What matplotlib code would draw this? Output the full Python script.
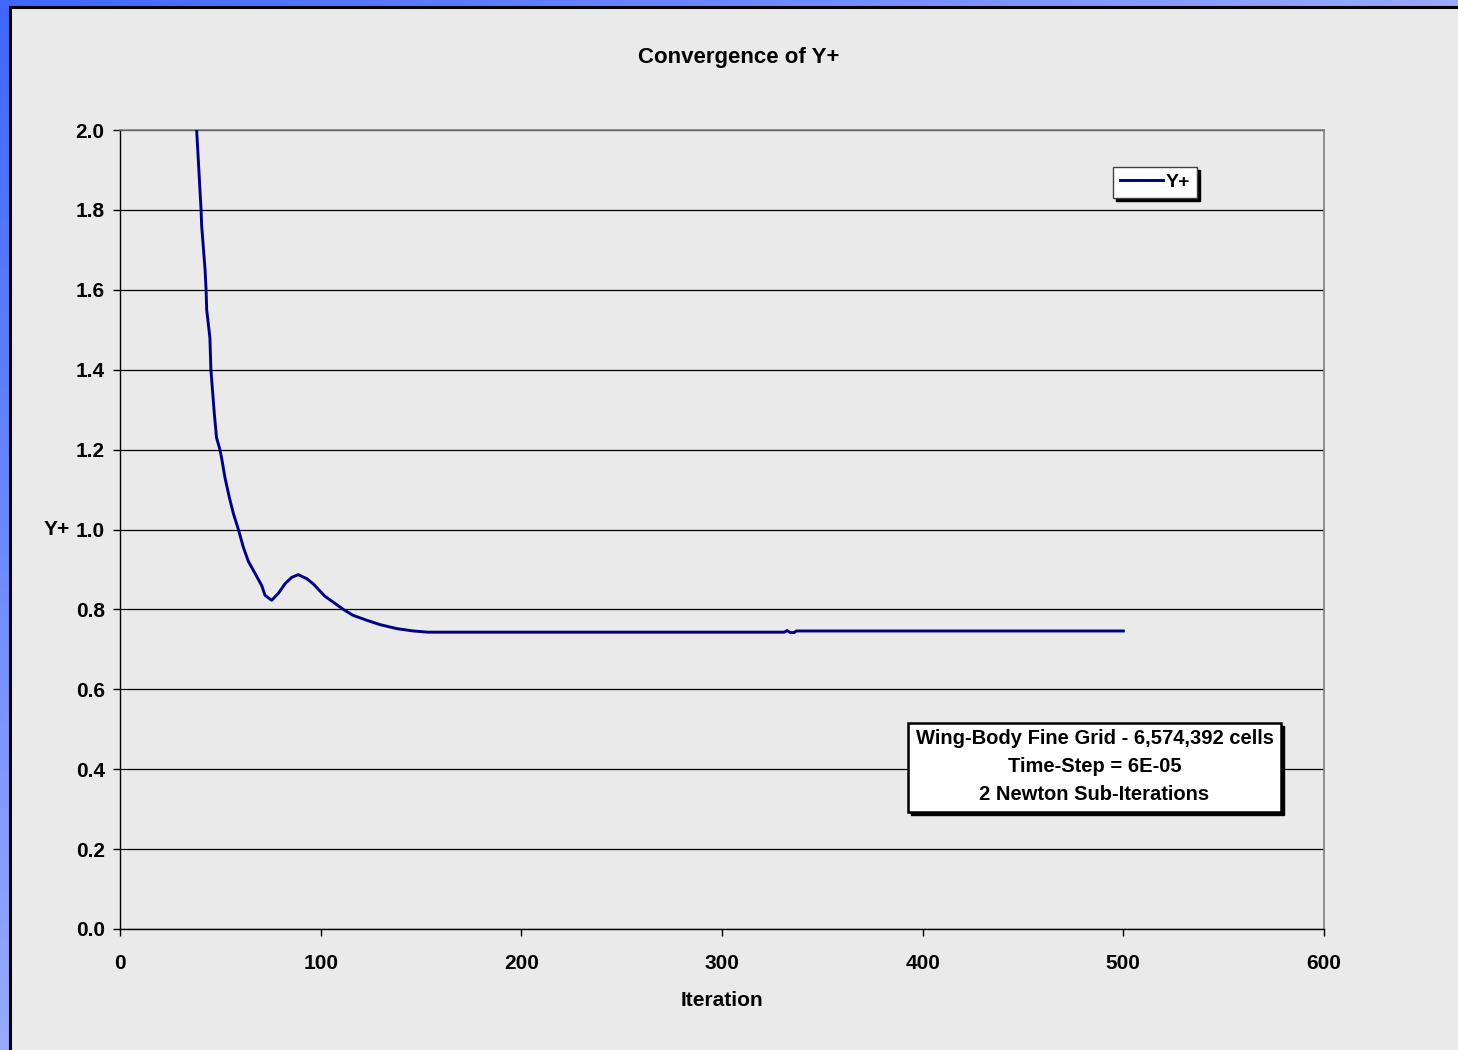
import numpy as np
import matplotlib.pyplot as plt
from matplotlib.patches import Rectangle

# =========================
# DATA
# =========================
iteration = [38.2, 40.4, 40.7, 42.4, 42.9, 43.2, 44.8, 45.3, 47.0, 48.1, 49.8,
             50.6, 52.3, 54.5, 56.5, 59.0, 61.5, 64.0, 67.3, 70.6, 72.3, 75.6,
             78.9, 82.2, 85.5, 88.8, 93.0, 96.3, 102.1, 106.3, 111.3, 116.2,
             122.9, 129.5, 137.8, 146.1, 153.6, 200, 250, 300, 331.0, 332.5,
             334.0, 336.0, 337.0, 400, 450, 500]
yplus = [2.00, 1.80, 1.76, 1.65, 1.60, 1.55, 1.48, 1.40, 1.29, 1.23, 1.20,
         1.18, 1.13, 1.08, 1.04, 1.00, 0.955, 0.92, 0.89, 0.86, 0.835, 0.823,
         0.84, 0.864, 0.88, 0.887, 0.877, 0.864, 0.833, 0.818, 0.80, 0.785,
         0.773, 0.762, 0.752, 0.746, 0.743, 0.743, 0.743, 0.743, 0.743, 0.747,
         0.742, 0.742, 0.746, 0.746, 0.746, 0.746]

series_label = "Y+"
title = "Convergence of Y+"
x_label = "Iteration"
y_label = "Y+"
note_lines = ["Wing-Body Fine Grid - 6,574,392 cells",
              "Time-Step = 6E-05",
              "2 Newton Sub-Iterations"]

# =========================
# FIGURE / BACKGROUND
# =========================
plt.rcParams["font.family"] = ["Liberation Sans", "DejaVu Sans"]
plt.rcParams["font.weight"] = "bold"

W, H = 1458, 1050
fig = plt.figure(figsize=(W / 100, H / 100), dpi=100)

# blue slide gradient behind the chart panel
bg = fig.add_axes([0, 0, 1, 1])
gx, gy = np.meshgrid(np.linspace(0, 1, 200), np.linspace(0, 1, 200))
t = np.clip((gx + gy) / 1.2, 0, 1)
c0 = np.array([0.25, 0.40, 1.0])
c1 = np.array([0.66, 0.72, 1.0])
grad = c0[None, None, :] * (1 - t[..., None]) + c1[None, None, :] * t[..., None]
bg.imshow(grad, extent=[0, 1, 0, 1], aspect="auto", origin="upper")
bg.set_axis_off()

panel = Rectangle((9.5 / W, -0.01), 1.0, 1 - 6.5 / H + 0.01,
                  transform=fig.transFigure, facecolor="#EAEAEA",
                  edgecolor="black", linewidth=2.2, zorder=1)
bg.add_patch(panel)

# =========================
# PLOT
# =========================
ax = fig.add_axes([120 / W, 1 - 929 / H, 1204 / W, 799 / H])
ax.set_facecolor("#EAEAEA")

ax.plot(iteration, yplus, color="#000080", linewidth=2.1, label=series_label,
        zorder=3)

ax.set_xlim(0, 600)
ax.set_ylim(0, 2.0)
ax.set_xticks(np.arange(0, 601, 100))
ax.set_yticks(np.arange(0, 2.01, 0.2))
ax.set_yticklabels([f"{v:.1f}" for v in np.arange(0, 2.01, 0.2)])
ax.tick_params(axis="both", direction="out", length=5, width=1, color="black",
               labelsize=15)
ax.tick_params(axis="y", pad=6)
ax.tick_params(axis="x", pad=13)
for lab in ax.get_xticklabels() + ax.get_yticklabels():
    lab.set_fontweight("bold")

ax.yaxis.grid(True, color="black", linewidth=0.9)
ax.set_axisbelow(True)
for side in ["left", "bottom"]:
    ax.spines[side].set_color("black")
    ax.spines[side].set_linewidth(1.0)
for side in ["top", "right"]:
    ax.spines[side].set_color("#808080")
    ax.spines[side].set_linewidth(1.2)

ax.set_xlabel(x_label, fontsize=15, fontweight="bold")
ax.xaxis.set_label_coords(0.5, -0.077)
ax.xaxis.label.set_va("top")
ax.set_ylabel(y_label, fontsize=15, fontweight="bold", rotation=0,
              ha="right", va="center")
ax.yaxis.set_label_coords(-0.0415, 0.5)

fig.text(739 / W, 1 - 57 / H, title, fontsize=16, fontweight="bold",
         ha="center", va="center")

# legend with hard black shadow
leg = ax.legend(loc="upper left", bbox_to_anchor=(0.825, 0.954),
                borderaxespad=0, fancybox=False, frameon=True,
                edgecolor="#404040", facecolor="white", framealpha=1,
                fontsize=14, handlelength=2.2, handletextpad=0.15,
                borderpad=0.35,
                shadow={"color": "black", "alpha": 1})
leg.get_frame().set_linewidth(1.0)
for txt in leg.get_texts():
    txt.set_fontweight("bold")

# annotation box with shadow
bx0, bx1 = (908 - 120) / 1204, (1281 - 120) / 1204
by0, by1 = (929 - 812) / 799, (929 - 723) / 799
sx, sy = 3 / 1204, 3 / 799
ax.add_patch(Rectangle((bx0 + sx, by0 - sy), bx1 - bx0, by1 - by0,
                       transform=ax.transAxes, facecolor="black",
                       edgecolor="black", zorder=5))
ax.add_patch(Rectangle((bx0, by0), bx1 - bx0, by1 - by0,
                       transform=ax.transAxes, facecolor="white",
                       edgecolor="black", linewidth=1.8, zorder=6))
for i, line in enumerate(note_lines):
    ypix = 738 + 28 * i
    ax.text((bx0 + bx1) / 2, (929 - ypix) / 799, line, transform=ax.transAxes,
            ha="center", va="center", fontsize=14.5, fontweight="bold",
            zorder=7)

fig.savefig("out.png", dpi=100)
